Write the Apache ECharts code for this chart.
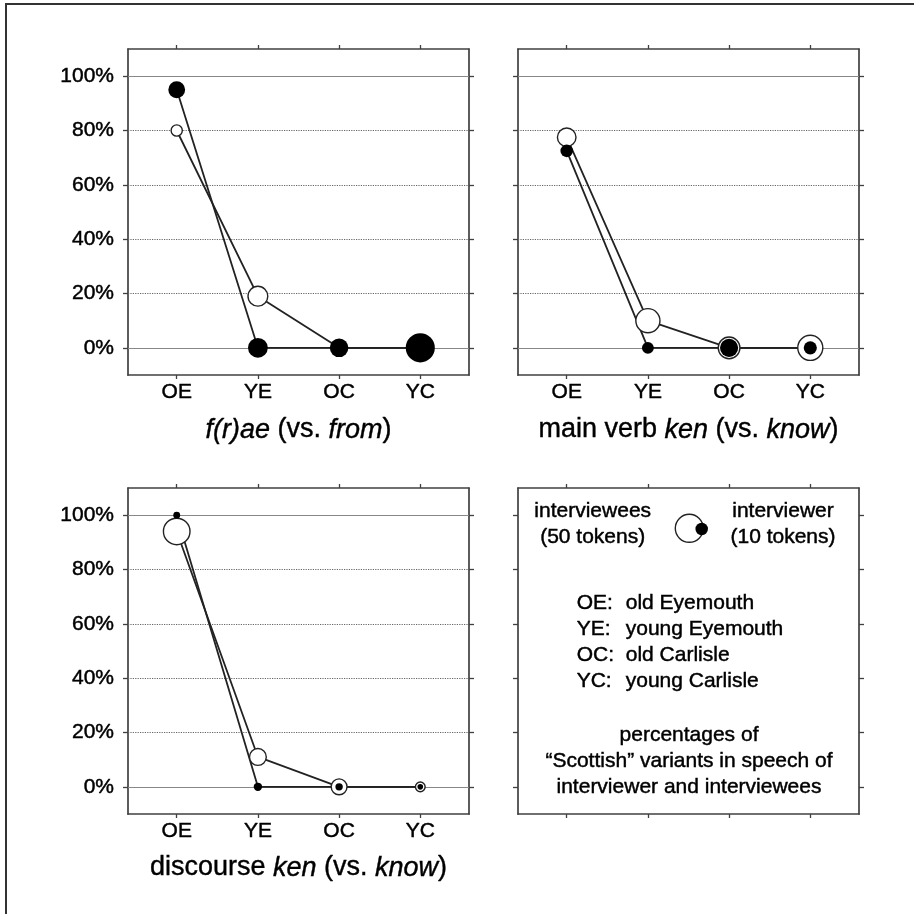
<!DOCTYPE html>
<html>
<head>
<meta charset="utf-8">
<script src="https://cdn.jsdelivr.net/npm/echarts@6/dist/echarts.min.js"></script>
<style>
html,body{margin:0;padding:0;background:#fff;}
#chart{width:914px;height:914px;}
</style>
</head>
<body>
<div id="chart"></div>
<script>
// ---- data ----
const categories = ['OE', 'YE', 'OC', 'YC'];
const yTicks = [0, 20, 40, 60, 80, 100];

const fraeInterviewees = [80, 19, 0, 0];
const fraeInterviewer = [95, 0, 0, 0];
const fraeIntervieweeTokens = [8, 25, 12, 40];
const fraeInterviewerTokens = [18, 25, 22, 54];

const verbKenInterviewees = [77.5, 10, 0, 0];
const verbKenInterviewer = [72.5, 0, 0, 0];
const verbKenIntervieweeTokens = [22, 37, 30, 40];
const verbKenInterviewerTokens = [10, 9, 21, 11];

const discKenInterviewees = [94, 11, 0, 0];
const discKenInterviewer = [100, 0, 0, 0];
const discKenIntervieweeTokens = [45, 18, 16, 6];
const discKenInterviewerTokens = [3, 4.5, 3.5, 2];

const panelTitles = [
  '{i|f(r)ae} (vs. {i|from})',
  'main verb {i|ken} (vs. {i|know})',
  'discourse {i|ken} (vs. {i|know})'
];
const legendTokens = [50, 10];
const legendTokenLabels = ['interviewees', '(50 tokens)', 'interviewer', '(10 tokens)'];
const legendCodes = ['OE:', 'YE:', 'OC:', 'YC:'];
const legendNames = ['old Eyemouth', 'young Eyemouth', 'old Carlisle', 'young Carlisle'];
const legendNote = ['percentages of', '\u201cScottish\u201d variants in speech of', 'interviewer and interviewees'];

// ---- layout / style ----
const FONT = '"Liberation Sans", Arial, Helvetica, sans-serif';
const AX = '#404040';
const INK = '#000000';
const LINE = '#222222';
const TB = 0.45; // slight text thickening
const grids = [
  {left: 128, top: 49, width: 341, height: 326},
  {left: 518, top: 49, width: 341, height: 326},
  {left: 128, top: 488, width: 341, height: 326},
  {left: 518, top: 488, width: 341, height: 326}
];
const sizeOf = n => 2 * 1.98 * Math.sqrt(n);

const panels = [
  {wee: fraeInterviewees, wer: fraeInterviewer, weeT: fraeIntervieweeTokens, werT: fraeInterviewerTokens, yLabels: true},
  {wee: verbKenInterviewees, wer: verbKenInterviewer, weeT: verbKenIntervieweeTokens, werT: verbKenInterviewerTokens, yLabels: false},
  {wee: discKenInterviewees, wer: discKenInterviewer, weeT: discKenIntervieweeTokens, werT: discKenInterviewerTokens, yLabels: true}
];

const xAxis = [], yAxis = [], series = [];
const tickVals = [0, 1, 2, 3];
grids.forEach((g, gi) => {
  const showX = gi < 3;
  const showY = gi < 3 && panels[gi].yLabels;
  ['bottom', 'top'].forEach((pos, k) => {
    xAxis.push({
      type: 'value', gridIndex: gi, position: pos, min: -0.6, max: 3.6,
      axisLine: {show: true, onZero: false, lineStyle: {color: AX, width: 1.7}},
      axisTick: {show: true, inside: false, length: 4, customValues: tickVals, lineStyle: {color: AX, width: 1.3}},
      axisLabel: {show: showX && k === 0, customValues: tickVals, formatter: v => categories[Math.round(v)],
        margin: 7, fontSize: 21, color: INK, fontFamily: FONT, textBorderColor: INK, textBorderWidth: TB},
      splitLine: {show: false}
    });
  });
  ['left', 'right'].forEach((pos, k) => {
    yAxis.push({
      type: 'value', gridIndex: gi, position: pos, min: -10, max: 110,
      axisLine: {show: true, onZero: false, lineStyle: {color: AX, width: 1.7}},
      axisTick: {show: true, inside: false, length: 5, customValues: yTicks, lineStyle: {color: AX, width: 1.3}},
      axisLabel: {show: showY && k === 0, customValues: yTicks, formatter: v => v + '%',
        margin: 14, fontSize: 21, color: INK, fontFamily: FONT, textBorderColor: INK, textBorderWidth: TB},
      splitLine: {show: false}
    });
  });
});

panels.forEach((p, gi) => {
  const xi = 2 * gi, yi = 2 * gi;
  const gridLines = yTicks.map(v => ({
    yAxis: v,
    lineStyle: (v === 0 || v === 100)
      ? {type: 'solid', color: '#888888', width: 1.2}
      : {type: 'dotted', color: '#666666', width: 1.2}
  }));
  series.push({
    type: 'line', xAxisIndex: xi, yAxisIndex: yi, data: [], z: 1, silent: true,
    markLine: {silent: true, symbol: ['none', 'none'], label: {show: false}, z: 1, animation: false, data: gridLines}
  });
  const weeData = categories.map((c, i) => [i, p.wee[i]]);
  const werData = categories.map((c, i) => [i, p.wer[i]]);
  series.push({type: 'line', xAxisIndex: xi, yAxisIndex: yi, data: weeData, showSymbol: false, symbol: 'none', z: 2,
    lineStyle: {color: LINE, width: 1.8}, emphasis: {disabled: true}});
  series.push({type: 'line', xAxisIndex: xi, yAxisIndex: yi, data: werData, showSymbol: false, symbol: 'none', z: 2,
    lineStyle: {color: LINE, width: 1.8}, emphasis: {disabled: true}});
  series.push({type: 'scatter', xAxisIndex: xi, yAxisIndex: yi, z: 3,
    data: weeData.map((d, i) => ({value: d, symbolSize: sizeOf(p.weeT[i])})),
    itemStyle: {color: '#ffffff', borderColor: LINE, borderWidth: 1.4, opacity: 1}, emphasis: {disabled: true}});
  series.push({type: 'scatter', xAxisIndex: xi, yAxisIndex: yi, z: 4,
    data: werData.map((d, i) => ({value: d, symbolSize: sizeOf(p.werT[i])})),
    itemStyle: {color: '#000000', borderColor: '#000000', borderWidth: 0, opacity: 1}, emphasis: {disabled: true}});
});

// ---- text & legend graphics ----
const graphic = [];
graphic.push({type: 'polyline', shape: {points: [[6, 914], [6, 4], [914, 4]]}, style: {stroke: '#333333', lineWidth: 2, fill: null}, silent: true});
const titlePos = [[298.5, 430], [688.5, 430], [298.5, 868]];
panelTitles.forEach((t, i) => {
  graphic.push({type: 'text', x: titlePos[i][0], y: titlePos[i][1], silent: true,
    style: {text: t, align: 'center', verticalAlign: 'middle', fontSize: 27, fontFamily: FONT, fill: INK,
      stroke: INK, lineWidth: 0.4,
      rich: {i: {fontStyle: 'italic', fontSize: 27, fontFamily: FONT, fill: INK, stroke: INK, lineWidth: 0.4}}}});
});
const txt = (s, x, y, align) => ({type: 'text', x: x, y: y, silent: true,
  style: {text: s, align: align || 'center', verticalAlign: 'middle', fontSize: 21, fontFamily: FONT, fill: INK,
    stroke: INK, lineWidth: TB}});
graphic.push(txt(legendTokenLabels[0], 592.7, 511.7));
graphic.push(txt(legendTokenLabels[1], 592.7, 537.3));
graphic.push(txt(legendTokenLabels[2], 783, 511.7));
graphic.push(txt(legendTokenLabels[3], 783, 537.3));
graphic.push({type: 'circle', shape: {cx: 689.3, cy: 528.3, r: sizeOf(legendTokens[0]) / 2}, style: {fill: '#fff', stroke: LINE, lineWidth: 1.4}, silent: true, z: 10});
graphic.push({type: 'circle', shape: {cx: 701.7, cy: 529, r: sizeOf(legendTokens[1]) / 2}, style: {fill: '#000'}, silent: true, z: 11});
legendCodes.forEach((c, i) => {
  const y = 603.3 + i * 26;
  graphic.push(txt(c, 576.7, y, 'left'));
  graphic.push(txt(legendNames[i], 625.7, y, 'left'));
});
legendNote.forEach((s, i) => graphic.push(txt(s, 689, 735 + i * 26.2)));

const chart = echarts.init(document.getElementById('chart'), null, {renderer: 'canvas'});
chart.setOption({
  animation: false,
  backgroundColor: '#ffffff',
  grid: grids,
  xAxis: xAxis,
  yAxis: yAxis,
  series: series,
  graphic: graphic
});
</script>
</body>
</html>
